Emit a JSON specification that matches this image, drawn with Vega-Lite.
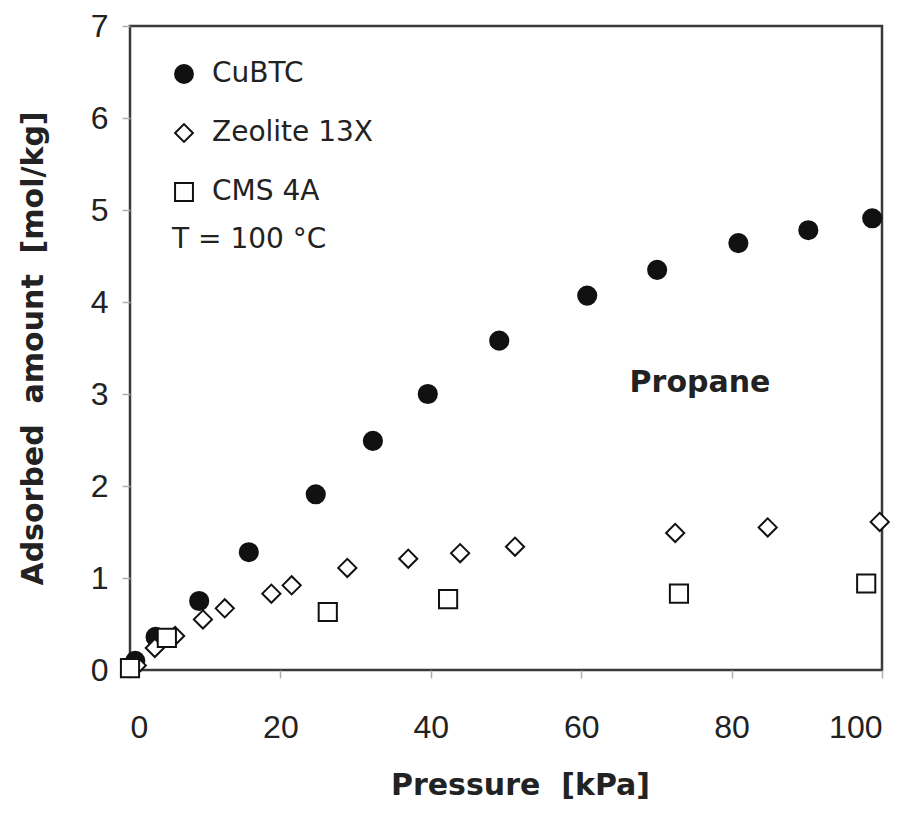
{
  "$schema": "https://vega.github.io/schema/vega-lite/v6.json",
  "autosize": "none",
  "width": 752,
  "height": 644,
  "padding": {"left": 130, "top": 26, "right": 33, "bottom": 143},
  "background": "white",
  "config": {
    "view": {"stroke": "#3a3a3a", "strokeWidth": 2.5},
    "axis": {
      "grid": false,
      "domain": false,
      "tickColor": "#b0b0b0",
      "tickSize": 8,
      "tickWidth": 1.5,
      "labelFont": "Liberation Sans",
      "labelFontSize": 32,
      "labelColor": "#222222",
      "titleFont": "DejaVu Sans",
      "titleFontWeight": "bold",
      "titleFontSize": 30,
      "titleColor": "#222222"
    }
  },
  "data": {
    "values": [
      {"series": "CuBTC", "p": 0.7, "q": 0.1},
      {"series": "CuBTC", "p": 3.4, "q": 0.36},
      {"series": "CuBTC", "p": 9.2, "q": 0.75},
      {"series": "CuBTC", "p": 15.8, "q": 1.28},
      {"series": "CuBTC", "p": 24.7, "q": 1.91},
      {"series": "CuBTC", "p": 32.3, "q": 2.49},
      {"series": "CuBTC", "p": 39.6, "q": 3.0},
      {"series": "CuBTC", "p": 49.1, "q": 3.58},
      {"series": "CuBTC", "p": 60.8, "q": 4.07},
      {"series": "CuBTC", "p": 70.1, "q": 4.35},
      {"series": "CuBTC", "p": 80.9, "q": 4.64},
      {"series": "CuBTC", "p": 90.2, "q": 4.78},
      {"series": "CuBTC", "p": 98.7, "q": 4.91},
      {"series": "Zeolite 13X", "p": 0.9, "q": 0.05},
      {"series": "Zeolite 13X", "p": 3.3, "q": 0.24},
      {"series": "Zeolite 13X", "p": 6.0, "q": 0.37},
      {"series": "Zeolite 13X", "p": 9.7, "q": 0.55},
      {"series": "Zeolite 13X", "p": 12.6, "q": 0.67},
      {"series": "Zeolite 13X", "p": 18.8, "q": 0.83},
      {"series": "Zeolite 13X", "p": 21.5, "q": 0.92},
      {"series": "Zeolite 13X", "p": 28.9, "q": 1.11},
      {"series": "Zeolite 13X", "p": 37.0, "q": 1.21},
      {"series": "Zeolite 13X", "p": 43.9, "q": 1.27},
      {"series": "Zeolite 13X", "p": 51.2, "q": 1.34},
      {"series": "Zeolite 13X", "p": 72.5, "q": 1.49},
      {"series": "Zeolite 13X", "p": 84.8, "q": 1.55},
      {"series": "Zeolite 13X", "p": 99.7, "q": 1.61},
      {"series": "CMS 4A", "p": 0.0, "q": 0.02},
      {"series": "CMS 4A", "p": 4.9, "q": 0.35},
      {"series": "CMS 4A", "p": 26.3, "q": 0.63},
      {"series": "CMS 4A", "p": 42.3, "q": 0.77},
      {"series": "CMS 4A", "p": 73.0, "q": 0.83},
      {"series": "CMS 4A", "p": 97.9, "q": 0.94}
    ]
  },
  "layer": [
    {
      "mark": {"type": "point", "filled": true, "strokeWidth": 2, "size": 330, "opacity": 1},
      "encoding": {
        "x": {"field": "p", "type": "quantitative", "scale": {"domain": [0, 100], "nice": false},
              "axis": {"values": [0, 20, 40, 60, 80, 100], "format": "d", "title": "Pressure\u00a0\u00a0[kPa]", "labelPadding": 34, "titlePadding": 27, "titleX": 390}},
        "y": {"field": "q", "type": "quantitative", "scale": {"domain": [0, 7], "nice": false},
              "axis": {"values": [0, 1, 2, 3, 4, 5, 6, 7], "format": "d", "title": "Adsorbed\u00a0\u00a0amount\u00a0\u00a0[mol/kg]", "labelPadding": 14, "titlePadding": 42}},
        "shape": {"field": "series", "type": "nominal",
                  "scale": {"domain": ["CuBTC", "Zeolite 13X", "CMS 4A"], "range": ["circle", "diamond", "square"]},
                  "legend": {"title": null, "orient": "none", "legendX": 40, "legendY": 34, "padding": 0,
                             "labelFont": "DejaVu Sans", "labelFontSize": 28, "labelColor": "#222222", "labelLimit": 400,
                             "labelOffset": 14, "rowPadding": 31, "symbolSize": 320, "symbolStrokeWidth": 2}},
        "fill": {"field": "series", "type": "nominal",
                 "scale": {"domain": ["CuBTC", "Zeolite 13X", "CMS 4A"], "range": ["#111111", "white", "white"]},
                 "legend": {"title": null, "orient": "none", "legendX": 40, "legendY": 34, "padding": 0,
                            "labelFont": "DejaVu Sans", "labelFontSize": 28, "labelColor": "#222222", "labelLimit": 400,
                            "labelOffset": 14, "rowPadding": 31, "symbolSize": 320, "symbolStrokeWidth": 2}},
        "stroke": {"field": "series", "type": "nominal",
                 "scale": {"domain": ["CuBTC", "Zeolite 13X", "CMS 4A"], "range": ["#111111", "#111111", "#111111"]},
                 "legend": {"title": null, "orient": "none", "legendX": 40, "legendY": 34, "padding": 0,
                            "labelFont": "DejaVu Sans", "labelFontSize": 28, "labelColor": "#222222", "labelLimit": 400,
                            "labelOffset": 14, "rowPadding": 31, "symbolSize": 320, "symbolStrokeWidth": 2}}
      }
    },
    {
      "data": {"values": [{"label": "T = 100 °C"}]},
      "mark": {"type": "text", "font": "DejaVu Sans", "fontSize": 28, "align": "left", "baseline": "middle", "color": "#222222"},
      "encoding": {"text": {"field": "label"}, "x": {"datum": 5.6}, "y": {"datum": 4.67}}
    },
    {
      "data": {"values": [{"label": "Propane"}]},
      "mark": {"type": "text", "font": "DejaVu Sans", "fontWeight": "bold", "fontSize": 30, "align": "center", "baseline": "middle", "color": "#222222"},
      "encoding": {"text": {"field": "label"}, "x": {"datum": 75.8}, "y": {"datum": 3.12}}
    }
  ]
}
